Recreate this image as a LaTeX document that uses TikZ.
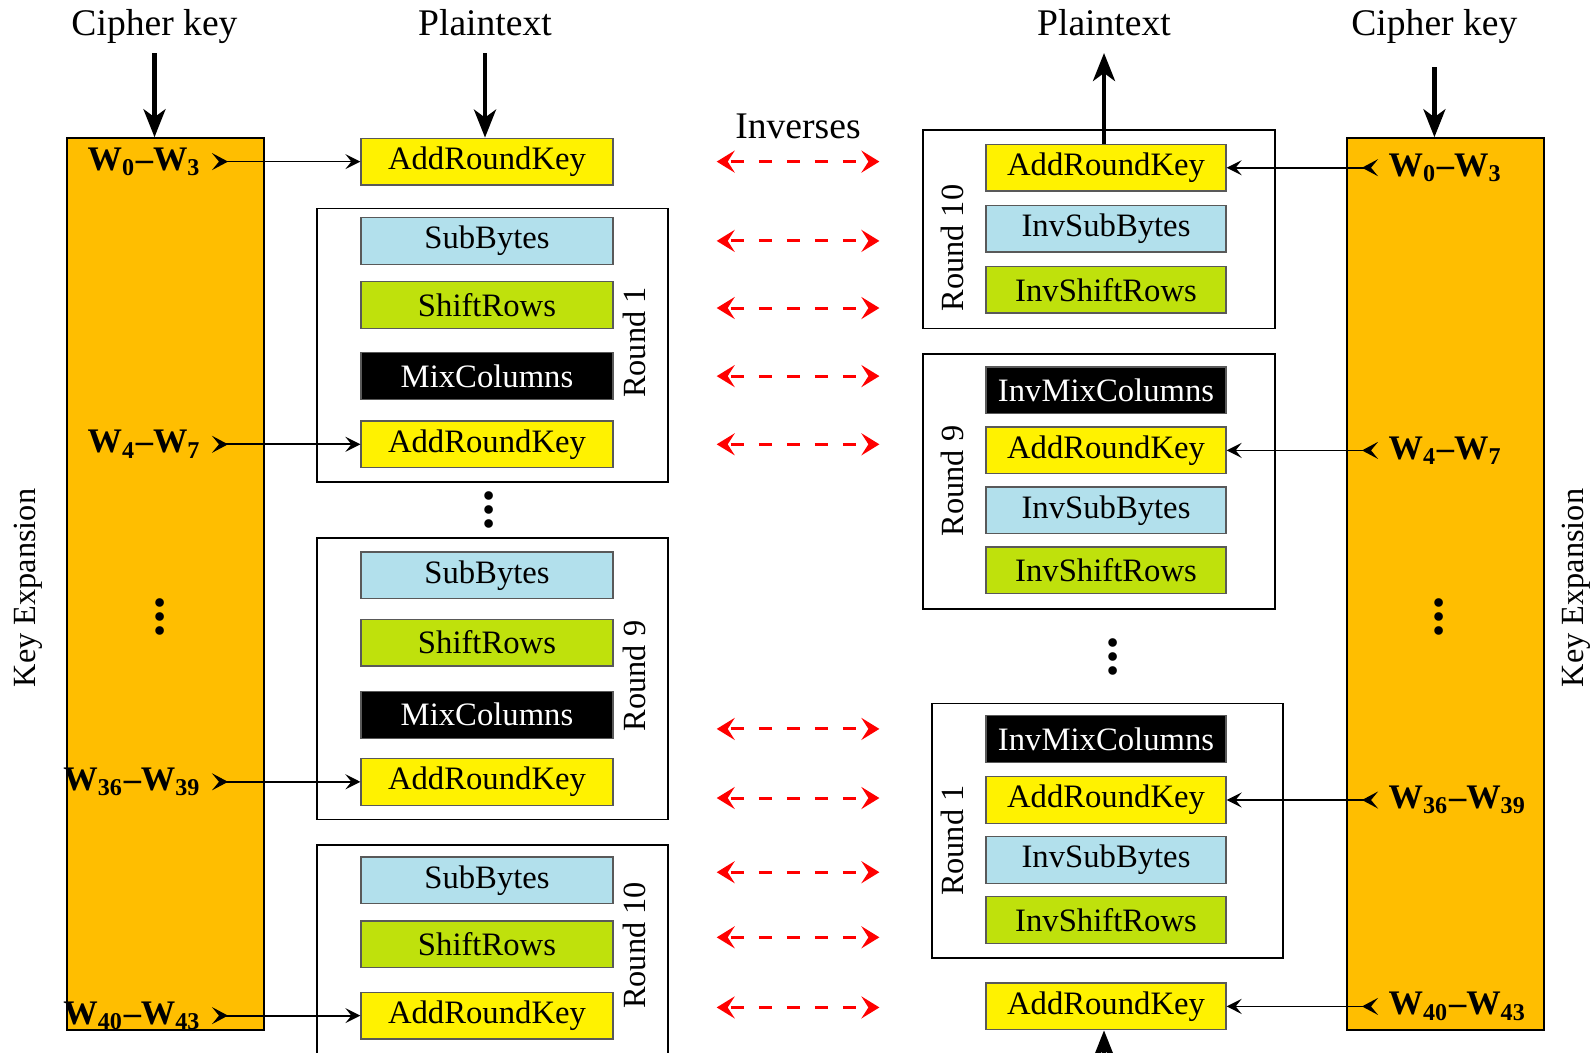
\documentclass[tikz,border=0pt]{standalone}
\usepackage{fontspec}
\setmainfont{Liberation Serif}
\usetikzlibrary{positioning}
\usetikzlibrary{arrows.meta}

\definecolor{keyorange}{RGB}{255,190,0}
\definecolor{subblue}{RGB}{178,224,236}
\definecolor{shiftgreen}{RGB}{191,225,12}

\begin{document}
\begin{tikzpicture}[
  x=0.1mm, y=-0.1mm,
  stage/.style={draw=gray!70!black, line width=0.35pt, minimum width=25.2mm, minimum height=4.68mm, inner sep=0pt, font=\fontsize{9.3}{11}\selectfont},
  invstage/.style={stage, minimum width=24mm},
  arkbox/.style={fill=yellow},
  subbox/.style={fill=subblue},
  shiftbox/.style={fill=shiftgreen},
  mixbox/.style={fill=black, text=white},
  keybox/.style={draw=black, line width=0.6pt, fill=keyorange, minimum width=19.7mm, minimum height=89.15mm, inner sep=0pt},
  roundframe/.style={draw=black, line width=0.5pt},
  title/.style={font=\fontsize{10.7}{13}\selectfont, anchor=base},
  roundlabel/.style={rotate=90, font=\fontsize{9.2}{11}\selectfont},
  sidelabel/.style={rotate=90, font=\fontsize{9.2}{11}\selectfont},
  wlabel/.style={font=\fontsize{9.8}{11}\selectfont\bfseries, inner sep=0pt},
  dots/.style={font=\fontsize{15}{15}\selectfont\bfseries, inner sep=0pt},
  bigarrow/.style={-{Stealth[length=2.8mm, width=2.2mm, inset=0.8mm]}, line width=1.2pt},
  keyarrow/.style={{Stealth[reversed, length=1.6mm, width=1.7mm, inset=0.7mm]}-{Stealth[length=1.5mm, width=1.5mm, inset=0.6mm]}, line width=0.5pt},
  invarrow/.style={{Stealth[length=1.8mm, width=2.2mm, inset=0.7mm]}-{Stealth[length=1.8mm, width=2.2mm, inset=0.7mm]}, red, line width=0.85pt, dash pattern=on 1.3mm off 1.5mm, dash phase=-0.4mm}
]
\useasboundingbox (0,0) rectangle (1593,1052);

% Titles
\node[title] (ckL) at (154.5,35) {Cipher key};
\node[title] (ptL) at (485,35) {Plaintext};
\node[title] (ptR) at (1104,35) {Plaintext};
\node[title] (ckR) at (1434.4,35) {Cipher key};
\node[title] (inv) at (798,138) {Inverses};

% Key expansion columns
\node[keybox] (keyL) at (165.7,584) {};
\node[keybox] (keyR) at (1445.6,584) {};
\node[sidelabel] (kexL) at (28.5,588) {Key Expansion};
\node[sidelabel] (kexR) at (1576,588) {Key Expansion};

% Round frames (cipher)
\draw[roundframe] (317.2,208.4) rectangle (667.9,481.9);
\draw[roundframe] (317.2,537.8) rectangle (667.9,819.4);
\draw[roundframe] (317.2,844.8) rectangle (667.9,1070);

% Round frames (inverse cipher)
\draw[roundframe] (923,130.1) rectangle (1274.8,328.4);
\draw[roundframe] (923,353.8) rectangle (1274.8,609);
\draw[roundframe] (932.2,703.5) rectangle (1283,957.6);

% Cipher stages
\node[stage, arkbox] (ark0) at (487,161.6) {AddRoundKey};

\node[stage, subbox] (sbA) at (487,240.9) {SubBytes};
\node[stage, shiftbox] (srA) at (487,305) {ShiftRows};
\node[stage, mixbox] (mcA) at (487,376.1) {MixColumns};
\node[stage, arkbox] (arkA) at (487,444.3) {AddRoundKey};
\node[roundlabel] (rA) at (634.4,342.6) {Round 1};

\node[dots] (dotsA) at (489,499) {$\vdots$};

\node[stage, subbox] (sbB) at (487,575.4) {SubBytes};
\node[stage, shiftbox] (srB) at (487,642.5) {ShiftRows};
\node[stage, mixbox] (mcB) at (487,714.7) {MixColumns};
\node[stage, arkbox] (arkB) at (487,781.8) {AddRoundKey};
\node[roundlabel] (rB) at (634.4,676) {Round 9};

\node[stage, subbox] (sbC) at (487,880.4) {SubBytes};
\node[stage, shiftbox] (srC) at (487,944.4) {ShiftRows};
\node[stage, arkbox] (arkC) at (487,1015.6) {AddRoundKey};
\node[roundlabel] (rC) at (634.4,945.4) {Round 10};

% Inverse cipher stages
\node[invstage, arkbox] (iarkA) at (1106,167.7) {AddRoundKey};
\node[invstage, subbox] (isbA) at (1106,228.7) {InvSubBytes};
\node[invstage, shiftbox] (isrA) at (1106,289.7) {InvShiftRows};
\node[roundlabel] (irA) at (952.6,248) {Round 10};

\node[invstage, mixbox] (imcB) at (1106,390.4) {InvMixColumns};
\node[invstage, arkbox] (iarkB) at (1106,450.4) {AddRoundKey};
\node[invstage, subbox] (isbB) at (1106,510.3) {InvSubBytes};
\node[invstage, shiftbox] (isrB) at (1106,570.3) {InvShiftRows};
\node[roundlabel] (irB) at (952.6,480.9) {Round 9};

\node[dots] (dotsB) at (1113,646) {$\vdots$};

\node[invstage, mixbox] (imcC) at (1106,739) {InvMixColumns};
\node[invstage, arkbox] (iarkC) at (1106,800) {AddRoundKey};
\node[invstage, subbox] (isbC) at (1106,860) {InvSubBytes};
\node[invstage, shiftbox] (isrC) at (1106,920) {InvShiftRows};
\node[roundlabel] (irC) at (952.6,840.7) {Round 1};

\node[invstage, arkbox] (iark0) at (1106,1006.4) {AddRoundKey};

% Round key words (left)
\node[wlabel, anchor=east] (wL0) at (202,161.6) {W\textsubscript{0}--W\textsubscript{3}};
\node[wlabel, anchor=east] (wL1) at (202,444.3) {W\textsubscript{4}--W\textsubscript{7}};
\node[dots] (dotsL) at (159.6,606) {$\vdots$};
\node[wlabel, anchor=east] (wL9) at (202,781.8) {W\textsubscript{36}--W\textsubscript{39}};
\node[wlabel, anchor=east] (wL10) at (202,1015.6) {W\textsubscript{40}--W\textsubscript{43}};

% Round key words (right)
\node[wlabel, anchor=west] (wR0) at (1388,167.7) {W\textsubscript{0}--W\textsubscript{3}};
\node[wlabel, anchor=west] (wR1) at (1388,450.4) {W\textsubscript{4}--W\textsubscript{7}};
\node[dots] (dotsR) at (1439.5,606) {$\vdots$};
\node[wlabel, anchor=west] (wR9) at (1388,800) {W\textsubscript{36}--W\textsubscript{39}};
\node[wlabel, anchor=west] (wR10) at (1388,1006.4) {W\textsubscript{40}--W\textsubscript{43}};

% Inputs and outputs
\draw[bigarrow] ([yshift=-1.8mm]ckL.base) -- (ckL.base |- keyL.north);
\draw[bigarrow] ([yshift=-1.8mm]ptL.base) -- (ptL.base |- ark0.north);
\draw[bigarrow] (iarkA.north -| ptR.base) -- ([yshift=-1.8mm]ptR.base);
\draw[bigarrow] ([yshift=-3.2mm]ckR.base) -- (ckR.base |- keyR.north);
\coordinate (ctIn) at (1104,1075);
\draw[bigarrow] (ctIn) -- (ctIn |- iark0.south);

% Round keys into AddRoundKey
\draw[keyarrow] ([xshift=1mm]wL0.east) -- (wL0.east -| ark0.west);
\draw[keyarrow] ([xshift=1mm]wL1.east) -- (wL1.east -| arkA.west);
\draw[keyarrow] ([xshift=1mm]wL9.east) -- (wL9.east -| arkB.west);
\draw[keyarrow] ([xshift=1mm]wL10.east) -- (wL10.east -| arkC.west);
\draw[keyarrow] ([xshift=-1mm]wR0.west) -- (wR0.west -| iarkA.east);
\draw[keyarrow] ([xshift=-1mm]wR1.west) -- (wR1.west -| iarkB.east);
\draw[keyarrow] ([xshift=-1mm]wR9.west) -- (wR9.west -| iarkC.east);
\draw[keyarrow] ([xshift=-1mm]wR10.west) -- (wR10.west -| iark0.east);

% Inverse pairs
\coordinate (invL1) at (716.7,161.6);  \coordinate (invR1) at (879.4,161.6);
\coordinate (invL2) at (716.7,240.9);  \coordinate (invR2) at (879.4,240.9);
\coordinate (invL3) at (716.7,308);    \coordinate (invR3) at (879.4,308);
\coordinate (invL4) at (716.7,376.1);  \coordinate (invR4) at (879.4,376.1);
\coordinate (invL5) at (716.7,444.3);  \coordinate (invR5) at (879.4,444.3);
\coordinate (invL6) at (716.7,728.9);  \coordinate (invR6) at (879.4,728.9);
\coordinate (invL7) at (716.7,798);    \coordinate (invR7) at (879.4,798);
\coordinate (invL8) at (716.7,872.2);  \coordinate (invR8) at (879.4,872.2);
\coordinate (invL9) at (716.7,937.3);  \coordinate (invR9) at (879.4,937.3);
\coordinate (invL10) at (716.7,1007.4); \coordinate (invR10) at (879.4,1007.4);
\draw[invarrow] (invL1) -- (invR1);
\draw[invarrow] (invL2) -- (invR2);
\draw[invarrow] (invL3) -- (invR3);
\draw[invarrow] (invL4) -- (invR4);
\draw[invarrow] (invL5) -- (invR5);
\draw[invarrow] (invL6) -- (invR6);
\draw[invarrow] (invL7) -- (invR7);
\draw[invarrow] (invL8) -- (invR8);
\draw[invarrow] (invL9) -- (invR9);
\draw[invarrow] (invL10) -- (invR10);

\end{tikzpicture}
\end{document}
